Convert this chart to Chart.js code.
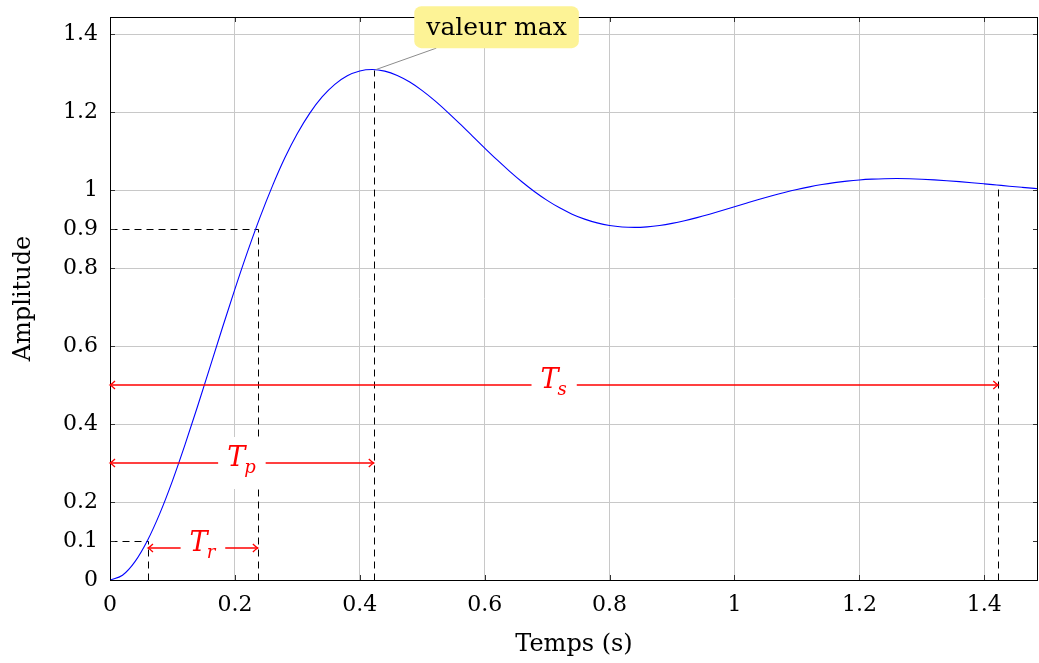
<!DOCTYPE html>
<html>
<head>
<meta charset="utf-8">
<title>Réponse indicielle</title>
<script src="https://cdn.jsdelivr.net/npm/chart.js@4/dist/chart.umd.min.js"></script>
<style>
  html, body { margin: 0; padding: 0; background: #fff; }
  #wrap { width: 1039px; height: 663px; }
</style>
</head>
<body>
<div id="wrap"><canvas id="stepChart" width="1039" height="663"></canvas></div>
<script>
// step response, one sample every 0.02 s
const times = [
  0, 0.02, 0.04, 0.06, 0.08, 0.1, 0.12, 0.14, 0.16, 0.18,
  0.2, 0.22, 0.24, 0.26, 0.28, 0.3, 0.32, 0.34, 0.36, 0.38,
  0.4, 0.42, 0.44, 0.46, 0.48, 0.5, 0.52, 0.54, 0.56, 0.58,
  0.6, 0.62, 0.64, 0.66, 0.68, 0.7, 0.72, 0.74, 0.76, 0.78,
  0.8, 0.82, 0.84, 0.86, 0.88, 0.9, 0.92, 0.94, 0.96, 0.98,
  1, 1.02, 1.04, 1.06, 1.08, 1.1, 1.12, 1.14, 1.16, 1.18,
  1.2, 1.22, 1.24, 1.26, 1.28, 1.3, 1.32, 1.34, 1.36, 1.38,
  1.4, 1.42, 1.44, 1.46, 1.48, 1.5
];
const amplitude = [
  0, 0.0123, 0.0472, 0.1014, 0.1716, 0.2543, 0.3464, 0.4444, 0.5455, 0.6469,
  0.746, 0.8408, 0.9294, 1.0103, 1.0829, 1.1453, 1.1976, 1.2396, 1.2713, 1.2932,
  1.3056, 1.3093, 1.3051, 1.294, 1.2771, 1.2552, 1.2295, 1.2009, 1.1706, 1.1393,
  1.1079, 1.0773, 1.0481, 1.0208, 0.9959, 0.9737, 0.9545, 0.9384, 0.9256, 0.9159,
  0.9092, 0.9055, 0.9044, 0.9058, 0.9093, 0.9146, 0.9214, 0.9294, 0.9382, 0.9476,
  0.9573, 0.967, 0.9765, 0.9855, 0.9939, 1.0016, 1.0084, 1.0143, 1.0192, 1.0231,
  1.0261, 1.0281, 1.0293, 1.0296, 1.0291, 1.028, 1.0263, 1.0242, 1.0217, 1.019,
  1.0161, 1.0131, 1.0101, 1.0072, 1.0044, 1.0018
];

const xTicks = [0, 0.2, 0.4, 0.6, 0.8, 1, 1.2, 1.4];
const yTicks = [0, 0.1, 0.2, 0.4, 0.6, 0.8, 0.9, 1, 1.2, 1.4];
const yNoGrid = [0, 0.1, 0.9];

// characteristic times / levels
const t10 = 0.0608, t90 = 0.2368, tPeak = 0.4224, tSettle = 1.4224;
const yPeak = 1.309, ySettle = 1.013;
const guides = [
  [[0, 0.9], [t90, 0.9]], [[t90, 0], [t90, 0.9]],
  [[0, 0.1], [t10, 0.1]], [[t10, 0], [t10, 0.1]],
  [[tPeak, 0], [tPeak, yPeak]],
  [[tSettle, 0], [tSettle, ySettle]]
];
const spans = [
  { sub: "r", from: t10, to: t90, y: 0.082 },
  { sub: "p", from: 0, to: tPeak, y: 0.3 },
  { sub: "s", from: 0, to: tSettle, y: 0.5 }
];
const callout = { text: "valeur max", x: 0.619, y: 1.418 };

const serif = "'DejaVu Serif', serif";
const red = "#ff0000";

function arrowHead(ctx, x, y, dir) {
  ctx.beginPath();
  ctx.moveTo(x - dir * 5, y - 4);
  ctx.quadraticCurveTo(x - dir * 2, y - 1, x, y);
  ctx.quadraticCurveTo(x - dir * 2, y + 1, x - dir * 5, y + 4);
  ctx.stroke();
}

const overlay = {
  id: "overlay",
  beforeDatasetsDraw(chart) {
    const { ctx, scales: { x, y } } = chart;
    ctx.save();
    ctx.strokeStyle = "#000";
    ctx.lineWidth = 1;
    ctx.setLineDash([7, 5]);
    guides.forEach(([a, b]) => {
      ctx.beginPath();
      ctx.moveTo(Math.round(x.getPixelForValue(a[0])) + 0.5, Math.round(y.getPixelForValue(a[1])) + 0.5);
      ctx.lineTo(Math.round(x.getPixelForValue(b[0])) + 0.5, Math.round(y.getPixelForValue(b[1])) + 0.5);
      ctx.stroke();
    });
    ctx.restore();
  },
  afterDatasetsDraw(chart) {
    const { ctx, chartArea: a, scales: { x, y } } = chart;
    ctx.save();

    // tick marks inside the frame
    ctx.strokeStyle = "#333";
    ctx.lineWidth = 1;
    ctx.beginPath();
    xTicks.forEach(v => {
      const px = Math.round(x.getPixelForValue(v)) + 0.5;
      ctx.moveTo(px, a.bottom); ctx.lineTo(px, a.bottom - 5);
      ctx.moveTo(px, a.top); ctx.lineTo(px, a.top + 5);
    });
    yTicks.forEach(v => {
      const py = Math.round(y.getPixelForValue(v)) + 0.5;
      ctx.moveTo(a.left, py); ctx.lineTo(a.left + 5, py);
      ctx.moveTo(a.right, py); ctx.lineTo(a.right - 5, py);
    });
    ctx.stroke();

    // frame
    ctx.strokeStyle = "#000";
    ctx.strokeRect(Math.round(a.left) + 0.5, Math.round(a.top) + 0.5,
      Math.round(a.right - a.left) - 1, Math.round(a.bottom - a.top));

    // time spans
    spans.forEach(s => {
      const x0 = x.getPixelForValue(s.from), x1 = x.getPixelForValue(s.to);
      const py = Math.round(y.getPixelForValue(s.y));
      ctx.strokeStyle = red;
      ctx.lineWidth = 1.3;
      ctx.beginPath();
      ctx.moveTo(x0, py); ctx.lineTo(x1, py);
      ctx.stroke();
      arrowHead(ctx, x0, py, -1);
      arrowHead(ctx, x1, py, 1);

      const mx = (x0 + x1) / 2;
      ctx.font = "italic 27px " + serif;
      const wT = ctx.measureText("T").width;
      ctx.font = "italic 18px " + serif;
      const wS = ctx.measureText(s.sub).width;
      const w = wT + wS;
      const deep = s.sub === "p";
      ctx.fillStyle = "#fff";
      ctx.fillRect(mx - w / 2 - 9, py - (deep ? 26 : 16), w + 18, deep ? 52 : 36);
      ctx.fillStyle = red;
      ctx.textBaseline = "alphabetic";
      ctx.textAlign = "left";
      ctx.font = "italic 27px " + serif;
      ctx.fillText("T", mx - w / 2, py + 3);
      ctx.font = "italic 18px " + serif;
      ctx.fillText(s.sub, mx - w / 2 + wT - 1, py + 10);
    });

    // callout on the maximum
    const cx = x.getPixelForValue(callout.x), cy = y.getPixelForValue(callout.y);
    ctx.font = "25px " + serif;
    const tw = ctx.measureText(callout.text).width;
    const bw = tw + 24, bh = 42;
    const bx = cx - bw / 2, by = cy - bh / 2;
    ctx.strokeStyle = "#8c8c8c";
    ctx.lineWidth = 1;
    ctx.beginPath();
    ctx.moveTo(x.getPixelForValue(tPeak) + 2, y.getPixelForValue(yPeak));
    ctx.lineTo(bx + 22, by + bh);
    ctx.stroke();
    ctx.fillStyle = "rgb(253,243,150)";
    ctx.beginPath();
    ctx.roundRect(bx, by, bw, bh, 7);
    ctx.fill();
    ctx.fillStyle = "#000";
    ctx.textAlign = "center";
    ctx.textBaseline = "middle";
    ctx.fillText(callout.text, cx, cy + 1);

    ctx.restore();
  }
};

const tickFont = { family: serif, size: 22 };
const titleFont = { family: serif, size: 24 };

new Chart(document.getElementById("stepChart").getContext("2d"), {
  type: "line",
  data: {
    datasets: [{
      data: times.map((t, i) => ({ x: t, y: amplitude[i] })),
      borderColor: "#0000ff",
      borderWidth: 1.1,
      pointRadius: 0,
      cubicInterpolationMode: "monotone",
      fill: false
    }]
  },
  options: {
    responsive: false,
    animation: false,
    layout: { padding: { top: 17, right: 1, left: 0, bottom: 0 } },
    plugins: { legend: { display: false }, tooltip: { enabled: false } },
    scales: {
      x: {
        type: "linear",
        min: 0,
        max: 1.486,
        afterBuildTicks: s => { s.ticks = xTicks.map(v => ({ value: v })); },
        afterFit: s => { s.height = 83; s.paddingLeft = 0; s.paddingRight = 0; },
        border: { display: false },
        grid: { color: "#c8c8c8", drawTicks: false },
        ticks: { padding: 12, color: "#000", font: tickFont, maxRotation: 0, autoSkip: false, callback: v => String(v) },
        title: { display: true, text: "Temps (s)", color: "#000", font: titleFont, padding: { top: 0, bottom: 4 } }
      },
      y: {
        type: "linear",
        min: 0,
        max: 1.444,
        afterBuildTicks: s => { s.ticks = yTicks.map(v => ({ value: v })); },
        afterFit: s => { s.width = 110; s.paddingTop = 0; s.paddingBottom = 0; },
        border: { display: false },
        grid: {
          color: c => (yNoGrid.includes(c.tick.value) ? "rgba(0,0,0,0)" : "#c8c8c8"),
          drawTicks: false
        },
        ticks: { padding: 12, color: "#000", font: tickFont, autoSkip: false, callback: v => String(v) },
        title: { display: true, text: "Amplitude", color: "#000", font: titleFont, padding: { top: 9, bottom: 0 } }
      }
    }
  },
  plugins: [overlay]
});
</script>
</body>
</html>
